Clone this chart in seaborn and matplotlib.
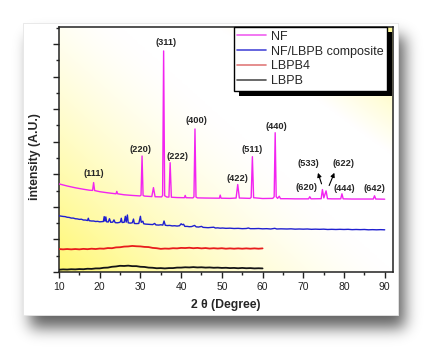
import numpy as np
import matplotlib
matplotlib.use("Agg")
import matplotlib.pyplot as plt
from matplotlib.ticker import MultipleLocator, NullFormatter
from matplotlib.patches import Rectangle
import seaborn as sns

# ---------------- data ----------------
nf_xy = [(10, 5.41), (12, 5.28), (14, 5.17), (16, 5.08), (17.5, 5.02), (18.25, 5.01), (18.5, 5.49), (18.75, 5.0),
         (20, 4.93), (22, 4.86), (24.0, 4.80), (24.2, 4.95), (24.4, 4.80), (26, 4.74), (28, 4.70), (29.9, 4.67),
         (30.15, 4.72), (30.4, 7.12), (30.65, 4.70), (31, 4.66), (32.8, 4.63), (33.2, 5.18), (33.6, 4.62),
         (35.2, 4.61), (35.45, 4.70), (35.7, 13.57), (35.95, 4.68), (36.5, 4.60), (37.0, 4.60), (37.3, 6.71),
         (37.6, 4.59), (39, 4.57), (40.8, 4.56), (41.0, 4.70), (41.2, 4.56), (42.9, 4.55), (43.15, 4.62),
         (43.4, 8.78), (43.65, 4.60), (44, 4.55), (46, 4.54), (49.4, 4.53), (49.6, 4.72), (49.8, 4.53),
         (52, 4.52), (53.5, 4.54), (53.9, 5.37), (54.3, 4.54), (56.9, 4.52), (57.2, 4.58), (57.5, 7.08),
         (57.8, 4.56), (60, 4.51), (62.5, 4.52), (62.85, 4.62), (63.1, 8.55), (63.35, 4.62), (63.7, 4.52),
         (64.1, 4.65), (64.4, 4.50), (66, 4.50), (68, 4.49), (71.3, 4.49), (71.6, 4.62), (71.9, 4.49),
         (74.4, 4.50), (74.7, 5.06), (75.05, 4.55), (75.6, 4.98), (75.95, 4.50), (77, 4.49), (79.2, 4.49),
         (79.5, 4.80), (79.8, 4.49), (82, 4.48), (84, 4.48), (87.2, 4.48), (87.5, 4.68), (87.8, 4.48), (90, 4.47)]

comp_xy = [(10, 3.45), (10.5, 3.43), (11, 3.41), (11.5, 3.40), (12, 3.36), (12.5, 3.35), (13, 3.31), (13.5, 3.31),
           (14, 3.27), (14.5, 3.26), (15, 3.23), (15.5, 3.24), (16, 3.19), (16.5, 3.19), (17, 3.16), (17.2, 3.30),
           (17.4, 3.15), (18, 3.13), (18.5, 3.13), (19, 3.10), (19.5, 3.11), (20, 3.08), (20.5, 3.09), (20.9, 3.10),
           (21.1, 3.40), (21.3, 3.12), (21.5, 3.38), (21.7, 3.08), (22.1, 3.07), (22.4, 3.27), (22.7, 3.05),
           (23.2, 3.06), (23.5, 3.20), (23.8, 3.03), (24.3, 3.02), (24.8, 3.04), (25.1, 3.08), (25.3, 3.30),
           (25.5, 3.04), (26.0, 3.05), (26.3, 3.42), (26.5, 3.06), (26.8, 3.50), (27.0, 3.02), (27.5, 3.00),
           (28.0, 3.02), (28.3, 3.25), (28.5, 2.98), (29.0, 2.97), (29.6, 2.98), (30.0, 3.42), (30.2, 3.05),
           (30.6, 3.12), (30.8, 2.96), (31.3, 2.94), (32, 2.93), (32.5, 2.92), (33, 2.91), (33.5, 2.98),
           (33.8, 2.89), (34.5, 2.88), (35, 2.90), (35.5, 2.88), (35.8, 3.13), (36.1, 2.87), (36.6, 2.85),
           (37.2, 2.86), (37.8, 2.83), (38.4, 2.84), (39, 2.82), (39.6, 2.84), (40.0, 2.96), (40.3, 2.90),
           (40.6, 2.93), (40.9, 2.80), (41.5, 2.80), (42, 2.78), (42.6, 2.79), (43.3, 2.86), (43.7, 2.77),
           (44.3, 2.76), (45, 2.80), (45.4, 2.74), (46, 2.73), (46.6, 2.72), (47.2, 2.73), (48, 2.75),
           (48.4, 2.70), (49, 2.71), (49.6, 2.69), (50.2, 2.70), (51, 2.68), (52, 2.69), (53, 2.67), (54, 2.68),
           (55, 2.66), (56, 2.67), (56.5, 2.70), (57, 2.66), (58, 2.66), (59, 2.67), (60, 2.65), (61, 2.66),
           (62, 2.64), (63, 2.68), (63.5, 2.64), (64.5, 2.65), (66, 2.64), (67, 2.65), (68, 2.63), (69, 2.64),
           (70, 2.63), (71, 2.64), (72, 2.62), (73, 2.63), (74, 2.62), (75, 2.63), (76, 2.61), (77, 2.62),
           (78, 2.61), (79, 2.62), (80, 2.61), (81, 2.62), (82, 2.60), (83, 2.61), (84, 2.60), (85, 2.61),
           (86, 2.59), (87, 2.60), (88, 2.59), (89, 2.60), (90, 2.59)]

lbpb_x = list(range(10, 61))
lbpb4_y = [1.41, 1.39, 1.41, 1.39, 1.41, 1.39, 1.42, 1.40, 1.43, 1.41, 1.44, 1.43, 1.47, 1.46, 1.51, 1.52, 1.56,
           1.57, 1.60, 1.58, 1.57, 1.54, 1.53, 1.48, 1.46, 1.42, 1.44, 1.43, 1.46, 1.45, 1.48, 1.47, 1.49, 1.46,
           1.48, 1.45, 1.47, 1.44, 1.46, 1.44, 1.46, 1.43, 1.45, 1.43, 1.45, 1.43, 1.45, 1.43, 1.45, 1.43, 1.45]
lbpb_y = [0.14, 0.16, 0.15, 0.17, 0.16, 0.18, 0.17, 0.20, 0.19, 0.22, 0.22, 0.26, 0.27, 0.32, 0.34, 0.38, 0.37,
          0.39, 0.36, 0.36, 0.32, 0.31, 0.27, 0.26, 0.23, 0.24, 0.22, 0.24, 0.24, 0.27, 0.27, 0.29, 0.28, 0.30,
          0.28, 0.29, 0.27, 0.28, 0.26, 0.27, 0.25, 0.26, 0.24, 0.25, 0.23, 0.25, 0.23, 0.24, 0.22, 0.23, 0.22]

series_names = ["NF", "NF/LBPB composite", "LBPB4", "LBPB"]
series_colors = ["#f224f0", "#1f1fd0", "#e81c1c", "#151515"]
legend_colors = ["#f060f0", "#4a4ad8", "#e07a7a", "#505050"]

peak_labels = ["(111)", "(220)", "(311)", "(222)", "(400)", "(422)", "(511)", "(440)",
               "(533)", "(622)", "(620)", "(444)", "(642)"]
label_x = [18.6, 30.0, 36.2, 39.0, 43.7, 53.85, 57.5, 63.3, 71.35, 80.0, 70.9, 80.0, 87.4]
label_y = [6.04, 7.53, 14.1, 7.08, 9.29, 5.71, 7.53, 8.92, 6.63, 6.63, 5.2, 5.14, 5.14]

x_ticks = [10, 20, 30, 40, 50, 60, 70, 80, 90]

# ---------------- figure ----------------
sns.set_style("ticks")
plt.rcParams["font.family"] = ["Liberation Sans", "DejaVu Sans"]

W, H = 442, 359
fig = plt.figure(figsize=(W / 100, H / 100), dpi=100)
fig.patch.set_facecolor("white")

# drop shadow of the card + white card (decoration)
bg = fig.add_axes([0, 0, 1, 1], zorder=-10)
bg.set_axis_off()
card = (23, 23, 398, 315)  # left, top, right, bottom in px
off = (7, 13)
sig = 7.5
k = np.arange(-28, 29)
ker = np.exp(-0.5 * (k / sig) ** 2)
ker /= ker.sum()
ix = np.zeros(W); ix[card[0] + off[0]:card[2] + off[0]] = 1
iy = np.zeros(H); iy[card[1] + off[1]:card[3] + off[1]] = 1
sx = np.convolve(ix, ker, mode="same")
sy = np.convolve(iy, ker, mode="same")
sh = np.outer(sy, sx)
rgba = np.zeros((H, W, 4))
rgba[..., 3] = 0.62 * sh
bg.imshow(rgba, extent=[0, W, H, 0], aspect="auto", interpolation="bilinear")
bg.add_patch(Rectangle((card[0], card[1]), card[2] - card[0], card[3] - card[1],
                       facecolor="white", edgecolor="#e6e6e6", lw=0.6))
bg.set_xlim(0, W); bg.set_ylim(H, 0)

# main axes
ax_l, ax_r, ax_t, ax_b = 59, 393, 27, 272
ax = fig.add_axes([ax_l / W, 1 - ax_b / H, (ax_r - ax_l) / W, (ax_b - ax_t) / H], zorder=1)

xlim = (10, 92.04)
ylim = (0, 15.04)

# yellow gradient background
gx, gy = np.meshgrid(np.linspace(0, 1, 200), np.linspace(0, 1, 200))
a1 = np.clip((0.55 - (0.55 * gx + 0.45 * gy)) / 0.55, 0, 1) ** 1.4
a2 = np.clip(((0.5 * gx + 0.5 * gy) - 0.74) / 0.26, 0, 1) * 0.75
A = np.clip(a1 + a2, 0, 1)
yellow = np.array([1.0, 0.972, 0.45])
img = np.ones((200, 200, 3)) * (1 - A[..., None]) + yellow * A[..., None]
ax.imshow(img, extent=[xlim[0], xlim[1], ylim[0], ylim[1]], origin="lower",
          aspect="auto", zorder=0, interpolation="bilinear")

nf_x, nf_y = zip(*nf_xy)
cp_x, cp_y = zip(*comp_xy)
data = [(nf_x, nf_y), (cp_x, cp_y), (lbpb_x, lbpb4_y), (lbpb_x, lbpb_y)]
lws = [1.0, 1.0, 1.3, 1.3]
for (xs, ys), name, col, lw in zip(data, series_names, series_colors, lws):
    sns.lineplot(x=list(xs), y=list(ys), ax=ax, color=col, lw=lw, label=name,
                 sort=False, estimator=None, zorder=3)

for t, lx, ly in zip(peak_labels, label_x, label_y):
    ax.text(lx, ly, t, ha="center", va="center", fontsize=6.7, fontweight="bold", zorder=4)

ax.annotate("", xy=(73.4, 6.25), xytext=(74.7, 5.25),
            arrowprops=dict(arrowstyle="-|>", color="black", lw=0.8, mutation_scale=6), zorder=4)
ax.annotate("", xy=(77.9, 6.25), xytext=(76.1, 5.15),
            arrowprops=dict(arrowstyle="-|>", color="black", lw=0.8, mutation_scale=6), zorder=4)

ax.set_xlim(*xlim)
ax.set_ylim(*ylim)
ax.set_xticks(x_ticks)
ax.xaxis.set_minor_locator(MultipleLocator(5))
ax.yaxis.set_major_locator(MultipleLocator(2))
ax.yaxis.set_minor_locator(MultipleLocator(1))
ax.yaxis.set_major_formatter(NullFormatter())
ax.tick_params(axis="both", which="major", direction="out", length=4.5, width=1.0, color="#222222",
               labelsize=7.5, pad=3)
ax.tick_params(axis="both", which="minor", direction="out", length=2.5, width=1.0, color="#222222")
ax.tick_params(axis="x", colors="#222222")
for s in ax.spines.values():
    s.set_visible(True)
    s.set_linewidth(1.1)
    s.set_color("#222222")

ax.set_xlabel("2 θ (Degree)", fontsize=8.8, fontweight="bold")
ax.set_ylabel("intensity (A.U.)", fontsize=8.8, fontweight="bold")
ax.xaxis.set_label_coords(0.5, -0.11)
ax.xaxis.label.set_va("top")
ax.yaxis.set_label_coords(-0.055, 0.47)

leg = ax.legend(loc="upper right", bbox_to_anchor=(0.982, 1.0), borderaxespad=0,
                fontsize=9, frameon=True, fancybox=False, framealpha=1,
                edgecolor="black", handlelength=2.3, handletextpad=0.35, labelspacing=0.22,
                borderpad=0.3)
leg.get_frame().set_linewidth(1.0)
leg.set_zorder(6)
for h, c in zip(leg.get_lines(), legend_colors):
    h.set_color(c)
    h.set_linewidth(1.2)

# black offset shadow behind the legend
fig.canvas.draw()
bb = leg.get_window_extent()
shadow_off = 5
fig.add_artist(Rectangle((bb.x0 + shadow_off, bb.y0 - shadow_off), bb.width, bb.height,
                         transform=None, facecolor="black", edgecolor="none", zorder=5))
ax.set_zorder(1)
# ensure the legend sits above the shadow: redraw legend as figure artist
leg.remove()
leg2 = fig.legend(handles=leg.legend_handles, labels=series_names,
                  loc="upper left", bbox_to_anchor=(bb.x0 / W, bb.y1 / H), borderaxespad=0,
                  fontsize=9, frameon=True, fancybox=False, framealpha=1,
                  edgecolor="black", handlelength=2.3, handletextpad=0.35, labelspacing=0.22,
                  borderpad=0.3)
leg2.get_frame().set_linewidth(1.0)
leg2.set_zorder(10)

fig.savefig("out.png", dpi=100, facecolor="white")
